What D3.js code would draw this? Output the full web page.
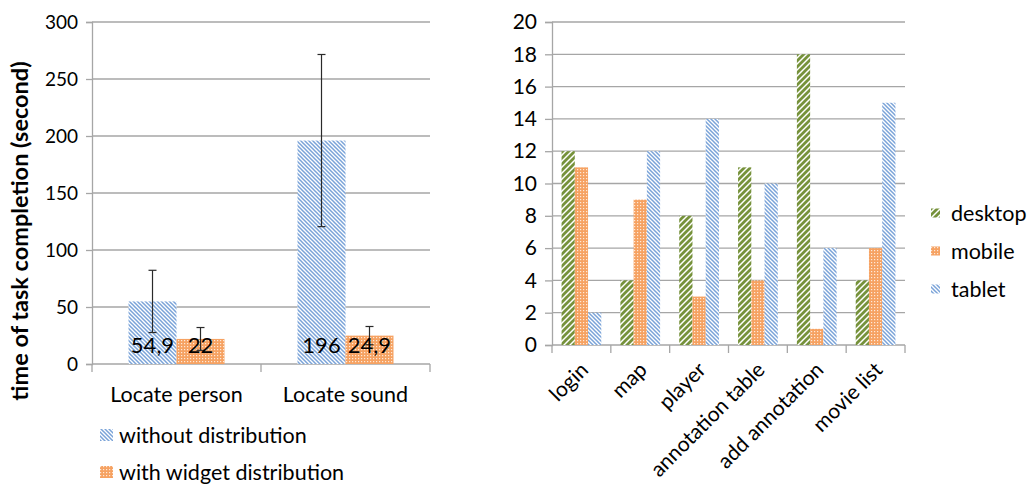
<!DOCTYPE html>
<html><head><meta charset="utf-8">
<script src="https://cdn.jsdelivr.net/npm/d3@7"></script>
<style>body{margin:0;background:#fff}svg{display:block}text{font-family:Lato,"Open Sans",sans-serif;fill:#000}</style>
</head><body><svg id="c" width="1027" height="489"></svg>
<script>
// ---- left chart data ----
const tasks = ["Locate person", "Locate sound"];
const conditions = ["without distribution", "with widget distribution"];
const meanWithout = [54.9, 196];
const meanWidget = [22, 24.9];
const errWithout = [27.3, 75.5];
const errWidget = [10, 8];
const labelWithout = ["54,9", "196"];
const labelWidget = ["22", "24,9"];
const leftTicks = [0, 50, 100, 150, 200, 250, 300];
// ---- right chart data ----
const screens = ["login", "map", "player", "annotation table", "add annotation", "movie list"];
const devices = ["desktop", "mobile", "tablet"];
const desktop = [12, 4, 8, 11, 18, 4];
const mobile = [11, 9, 3, 4, 1, 6];
const tablet = [2, 12, 14, 10, 6, 15];
const rightTicks = [0, 2, 4, 6, 8, 10, 12, 14, 16, 18, 20];

const svg = d3.select("#c");
svg.append("rect").attr("width",1027).attr("height",489).attr("fill","#fff");
const defs = svg.append("defs");
const pb = defs.append("pattern").attr("id","pBlue").attr("patternUnits","userSpaceOnUse").attr("width",4).attr("height",4);
pb.append("rect").attr("width",4).attr("height",4).attr("fill","#fff");
pb.append("path").attr("d","M-1,-1 L5,5 M-1,3 L1,5 M3,-1 L5,1").attr("stroke","#7aa3d8").attr("stroke-width",1.5);
const pg = defs.append("pattern").attr("id","pGreen").attr("patternUnits","userSpaceOnUse").attr("width",6).attr("height",6);
pg.append("rect").attr("width",6).attr("height",6).attr("fill","#fff");
pg.append("path").attr("d","M-1,7 L7,-1 M-1,1 L1,-1 M5,7 L7,5").attr("stroke","#76923b").attr("stroke-width",2.8);
const po = defs.append("pattern").attr("id","pOrange").attr("patternUnits","userSpaceOnUse").attr("width",3).attr("height",3);
po.append("rect").attr("width",3).attr("height",3).attr("fill","#f6a262");
po.append("rect").attr("x",1).attr("y",1).attr("width",1.2).attr("height",1.2).attr("fill","#fde9d9");

const gridCol = "#a6a6a6";

// ================= LEFT CHART =================
const yL = d3.scaleLinear().domain([0,300]).range([364,22]);
const xL = d3.scaleBand().domain(tasks).range([92,430]).paddingInner(0.432).paddingOuter(0.216);
const xL1 = d3.scaleBand().domain(conditions).range([0, xL.bandwidth()]);
const gL = svg.append("g");
gL.selectAll("line.grid").data(leftTicks).join("line")
  .attr("x1",92).attr("x2",430).attr("y1",d=>yL(d)).attr("y2",d=>yL(d))
  .attr("stroke",gridCol).attr("stroke-width",1.3);
const axL = gL.append("g").attr("transform","translate(92,0)")
  .call(d3.axisLeft(yL).tickValues(leftTicks).tickSize(6).tickPadding(8));
axL.select(".domain").attr("stroke",gridCol).attr("stroke-width",1.3);
axL.selectAll(".tick line").attr("stroke",gridCol).attr("stroke-width",1.3);
axL.selectAll(".tick text").style("font-size","19px").style("font-family","Lato").attr("fill","#000");
const stepL = xL.step();
const boundsL = d3.range(tasks.length+1).map(i => xL.range()[0] + i*stepL);
gL.selectAll("line.xt").data(boundsL).join("line")
  .attr("x1",d=>d).attr("x2",d=>d).attr("y1",yL(0)).attr("y2",yL(0)+8)
  .attr("stroke",gridCol).attr("stroke-width",1.3);
gL.selectAll("text.cat").data(tasks).join("text")
  .attr("x",d=>xL(d)+xL.bandwidth()/2).attr("y",yL(0)+38)
  .attr("text-anchor","middle").style("font-size","21.5px").text(d=>d);
const leftData = [];
tasks.forEach((t,i)=>{
  leftData.push({t, c:conditions[0], v:meanWithout[i], e:errWithout[i], l:labelWithout[i], fill:"url(#pBlue)"});
  leftData.push({t, c:conditions[1], v:meanWidget[i], e:errWidget[i], l:labelWidget[i], fill:"url(#pOrange)"});
});
gL.selectAll("rect.bar").data(leftData).join("rect")
  .attr("x",d=>xL(d.t)+xL1(d.c)).attr("width",xL1.bandwidth())
  .attr("y",d=>yL(d.v)).attr("height",d=>yL(0)-yL(d.v)).attr("fill",d=>d.fill);
const eb = gL.selectAll("g.eb").data(leftData).join("g")
  .attr("transform",d=>`translate(${xL(d.t)+xL1(d.c)+xL1.bandwidth()/2},0)`);
eb.append("line").attr("y1",d=>yL(d.v+d.e)).attr("y2",d=>yL(d.v-d.e)).attr("stroke","#2a2a2a").attr("stroke-width",1.2);
eb.append("line").attr("x1",-4).attr("x2",4).attr("y1",d=>yL(d.v+d.e)).attr("y2",d=>yL(d.v+d.e)).attr("stroke","#2a2a2a").attr("stroke-width",1.2);
eb.append("line").attr("x1",-4).attr("x2",4).attr("y1",d=>yL(d.v-d.e)).attr("y2",d=>yL(d.v-d.e)).attr("stroke","#2a2a2a").attr("stroke-width",1.2);
gL.selectAll("text.dl").data(leftData).join("text")
  .attr("x",d=>xL(d.t)+xL1(d.c)+xL1.bandwidth()/2).attr("y",yL(0)-11)
  .attr("text-anchor","middle").style("font-size","22px").text(d=>d.l);
svg.append("text").attr("transform","translate(28,231) rotate(-90)")
  .attr("text-anchor","middle").style("font-size","23.5px").style("font-weight","bold")
  .text("time of task completion (second)");
const legL = svg.append("g");
const legLFill = ["url(#pBlue)","url(#pOrange)"];
conditions.forEach((c,i)=>{
  const cy = 435 + i*37;
  legL.append("rect").attr("x",100).attr("y",cy-6).attr("width",13).attr("height",12).attr("fill",legLFill[i]);
  legL.append("text").attr("x",119).attr("y",cy).attr("dy","0.35em").style("font-size","21.5px").text(c);
});

// ================= RIGHT CHART =================
const yR = d3.scaleLinear().domain([0,20]).range([345,22]);
const xR = d3.scaleBand().domain(screens).range([552,905]).paddingInner(0.325).paddingOuter(0.1625);
const xR1 = d3.scaleBand().domain(devices).range([0, xR.bandwidth()]);
const gR = svg.append("g");
gR.selectAll("line.grid").data(rightTicks).join("line")
  .attr("x1",552).attr("x2",905).attr("y1",d=>yR(d)).attr("y2",d=>yR(d))
  .attr("stroke",gridCol).attr("stroke-width",1.3);
const axR = gR.append("g").attr("transform","translate(552,0)")
  .call(d3.axisLeft(yR).tickValues(rightTicks).tickSize(7).tickPadding(8));
axR.select(".domain").attr("stroke",gridCol).attr("stroke-width",1.3);
axR.selectAll(".tick line").attr("stroke",gridCol).attr("stroke-width",1.3);
axR.selectAll(".tick text").style("font-size","21px").style("font-family","Lato").attr("fill","#000");
const stepR = xR.step();
const boundsR = d3.range(screens.length+1).map(i => xR.range()[0] + i*stepR);
gR.selectAll("line.xt").data(boundsR).join("line")
  .attr("x1",d=>d).attr("x2",d=>d).attr("y1",yR(0)).attr("y2",yR(0)+8)
  .attr("stroke",gridCol).attr("stroke-width",1.3);
const devFill = {desktop:"url(#pGreen)", mobile:"url(#pOrange)", tablet:"url(#pBlue)"};
const devVals = {desktop, mobile, tablet};
const rightData = [];
screens.forEach((s,i)=>devices.forEach(dv=>rightData.push({s, dv, v:devVals[dv][i]})));
gR.selectAll("rect.bar").data(rightData).join("rect")
  .attr("x",d=>xR(d.s)+xR1(d.dv)).attr("width",xR1.bandwidth())
  .attr("y",d=>yR(d.v)).attr("height",d=>yR(0)-yR(d.v)).attr("fill",d=>devFill[d.dv]);
gR.selectAll("text.cat").data(screens).join("text")
  .attr("transform",d=>`translate(${xR(d)+xR.bandwidth()/2-3},${yR(0)+15}) rotate(-45)`)
  .attr("text-anchor","end").attr("dy","0.75em").style("font-size","21px").text(d=>d);
devices.forEach((dv,i)=>{
  const cy = 213 + i*38;
  svg.append("rect").attr("x",931).attr("y",cy-4.5).attr("width",9).attr("height",9).attr("fill",devFill[dv]);
  svg.append("text").attr("x",951).attr("y",cy).attr("dy","0.35em").style("font-size","21.5px").text(dv);
});
</script></body></html>
